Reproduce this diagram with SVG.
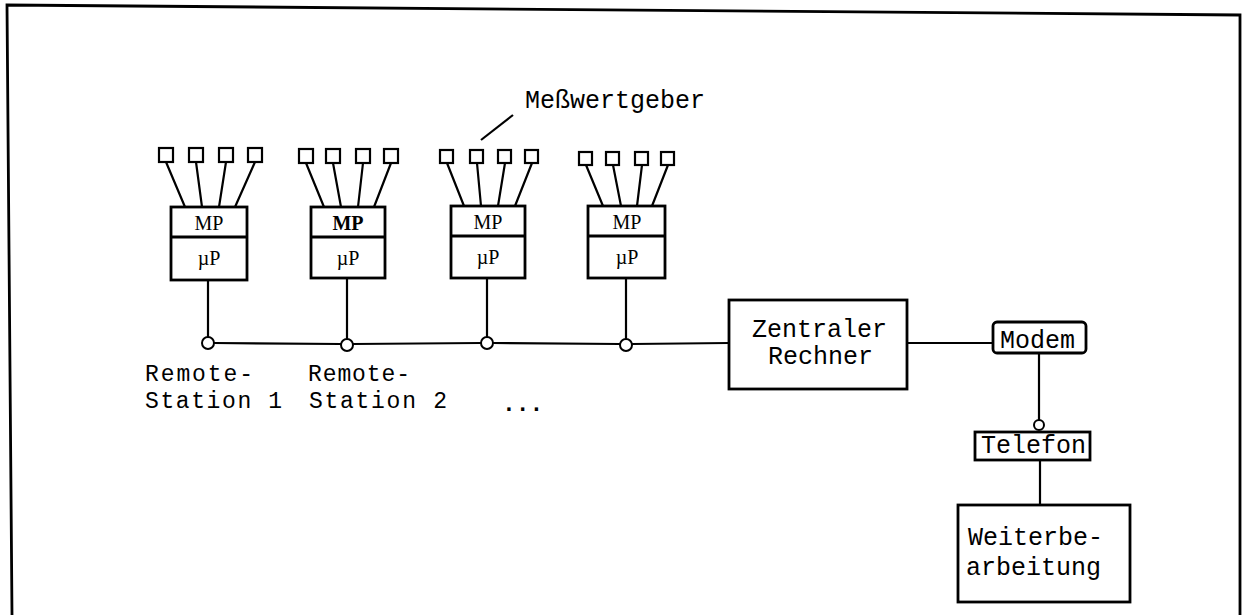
<svg xmlns="http://www.w3.org/2000/svg" width="1245" height="615" viewBox="0 0 1245 615">
<style>
.ln{stroke:#000;stroke-width:2.2;fill:none}
.bx{stroke:#000;stroke-width:2.8;fill:#fff}
.sq{stroke:#000;stroke-width:2.2;fill:#fff}
.cr{stroke:#000;stroke-width:2;fill:#fff}
.tw{font-family:"Liberation Mono","DejaVu Sans Mono",monospace;font-size:25px;fill:#000}
.rs{font-family:"Liberation Mono","DejaVu Sans Mono",monospace;font-size:23px;fill:#000}
.sf{font-family:"Liberation Serif","DejaVu Serif",serif;font-size:20px;fill:#000;text-anchor:middle}
</style>
<rect width="1245" height="615" fill="#fff"/>
<path id="frame" d="M12,615 L7,5 L1240,15 L1240,615" stroke="#000" stroke-width="2.8" fill="none"/>
<g id="connectors">
  <line class="ln" x1="208" y1="280" x2="208" y2="337"/>
  <line class="ln" x1="347" y1="278" x2="347" y2="339"/>
  <line class="ln" x1="487" y1="278" x2="487" y2="337"/>
  <line class="ln" x1="626" y1="278" x2="626" y2="339"/>
  <line class="ln" x1="214" y1="343" x2="341" y2="344"/>
  <line class="ln" x1="353" y1="344" x2="481" y2="343"/>
  <line class="ln" x1="493" y1="343" x2="620" y2="344"/>
  <line class="ln" x1="632" y1="344" x2="729" y2="343"/>
  <line class="ln" x1="907" y1="343" x2="993" y2="343"/>
  <line class="ln" x1="1039" y1="353" x2="1039" y2="420"/>
  <line class="ln" x1="1040" y1="460" x2="1040" y2="505"/>
  <line class="ln" x1="513" y1="115" x2="481" y2="140"/>
</g>
<g id="station1">
  <rect class="sq" x="159" y="148" width="14" height="14"/>
  <rect class="sq" x="189" y="148" width="14" height="14"/>
  <rect class="sq" x="219" y="148" width="14" height="14"/>
  <rect class="sq" x="248" y="148" width="14" height="14"/>
  <path class="ln" d="M166,162 L185,207 M196,162 L202,207 M226,162 L219,207 M255,162 L235,207"/>
  <rect class="bx" x="171" y="207" width="76" height="73"/>
  <line class="bx" x1="171" y1="237" x2="247" y2="237"/>
  <text class="sf" x="209" y="230">MP</text>
  <text class="sf" x="209" y="265">µP</text>
  <circle class="cr" cx="208" cy="343" r="6"/>
</g>
<g id="station2">
  <rect class="sq" x="299" y="149" width="14" height="14"/>
  <rect class="sq" x="326" y="149" width="14" height="14"/>
  <rect class="sq" x="356" y="149" width="14" height="14"/>
  <rect class="sq" x="384" y="149" width="14" height="14"/>
  <path class="ln" d="M306,163 L324,207 M333,163 L341,207 M363,163 L358,207 M391,163 L374,207"/>
  <rect class="bx" x="311" y="207" width="74" height="71"/>
  <line class="bx" x1="311" y1="237" x2="385" y2="237"/>
  <text class="sf" x="348" y="230" font-weight="bold">MP</text>
  <text class="sf" x="348" y="265">µP</text>
  <circle class="cr" cx="347" cy="345" r="6"/>
</g>
<g id="station3">
  <rect class="sq" x="440" y="150" width="13" height="13"/>
  <rect class="sq" x="470" y="150" width="13" height="13"/>
  <rect class="sq" x="498" y="150" width="13" height="13"/>
  <rect class="sq" x="525" y="150" width="13" height="13"/>
  <path class="ln" d="M447,163 L464,206 M477,163 L481,206 M505,163 L498,206 M532,163 L515,206"/>
  <rect class="bx" x="451" y="206" width="74" height="72"/>
  <line class="bx" x1="451" y1="236" x2="525" y2="236"/>
  <text class="sf" x="488" y="229">MP</text>
  <text class="sf" x="488" y="264">µP</text>
  <circle class="cr" cx="487" cy="343" r="6"/>
</g>
<g id="station4">
  <rect class="sq" x="579" y="152" width="13" height="13"/>
  <rect class="sq" x="606" y="152" width="13" height="13"/>
  <rect class="sq" x="635" y="152" width="13" height="13"/>
  <rect class="sq" x="661" y="152" width="13" height="13"/>
  <path class="ln" d="M586,165 L603,206 M613,165 L621,206 M642,165 L637,206 M668,165 L652,206"/>
  <rect class="bx" x="588" y="206" width="77" height="72"/>
  <line class="bx" x1="588" y1="236" x2="665" y2="236"/>
  <text class="sf" x="627" y="229">MP</text>
  <text class="sf" x="627" y="264">µP</text>
  <circle class="cr" cx="626" cy="345" r="6"/>
</g>
<g id="messwertgeber">
  <text class="tw" x="525" y="108">Meßwertgeber</text>
</g>
<g id="labels">
  <text class="rs" x="145" y="381" textLength="108">Remote-</text>
  <text class="rs" x="145" y="408" textLength="137">Station 1</text>
  <text class="rs" x="308" y="381" textLength="102">Remote-</text>
  <text class="rs" x="309" y="408" textLength="138">Station 2</text>
  <text class="rs" x="502" y="411" font-weight="bold">...</text>
</g>
<g id="zentraler">
  <rect class="bx" x="729" y="300" width="178" height="89"/>
  <text class="tw" x="752" y="337">Zentraler</text>
  <text class="tw" x="768" y="364">Rechner</text>
</g>
<g id="modem">
  <rect class="bx" x="993" y="322" width="93" height="31" rx="4"/>
  <text class="tw" x="1000" y="348" font-size="24">Modem</text>
  <circle class="cr" cx="1039" cy="425" r="5"/>
</g>
<g id="telefon">
  <rect class="bx" x="975" y="432" width="115" height="28"/>
  <text class="tw" x="981" y="453" font-size="24">Telefon</text>
</g>
<g id="weiterbearbeitung">
  <rect class="bx" x="958" y="505" width="172" height="97"/>
  <text class="tw" x="968" y="545">Weiterbe-</text>
  <text class="tw" x="966" y="575">arbeitung</text>
</g>
</svg>
